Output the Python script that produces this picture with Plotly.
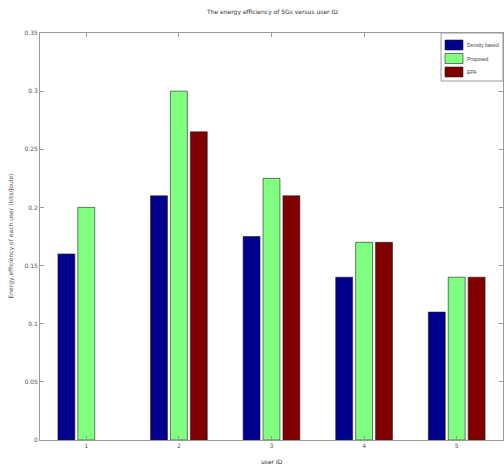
import plotly.graph_objects as go

# User IDs on the x axis
users = [1, 2, 3, 4, 5]
user_labels = ["1", "2", "3", "4", "5"]

# Energy efficiency of each user for the three schemes (None = no bar)
density_based = [0.16, 0.21, 0.175, 0.14, 0.11]
proposed = [0.20, 0.30, 0.225, 0.17, 0.14]
epa = [None, 0.265, 0.21, 0.17, 0.14]

y_ticks = [0, 0.05, 0.1, 0.15, 0.2, 0.25, 0.3, 0.35]

series = [
    ("Density based", density_based, "#00008f"),
    ("Proposed", proposed, "#80ff80"),
    ("EPA", epa, "#800000"),
]

fig = go.Figure()
for name, vals, color in series:
    fig.add_trace(go.Bar(
        x=users, y=vals, name=name, showlegend=False,
        marker=dict(color=color, line=dict(color="#222222", width=0.6)),
    ))

axis_common = dict(
    showline=True, linecolor="#9a9a9a", linewidth=1, mirror="ticks",
    ticks="inside", ticklen=4, tickcolor="#9a9a9a", tickwidth=1,
    showgrid=False, zeroline=False,
    tickfont=dict(family="DejaVu Sans", size=6, color="#555555"),
)

# Plot area geometry in pixels, used to place the compact legend box
W, H = 504, 466
ML, MR, MT, MB = 40, 1, 33, 26
pw, ph = W - ML - MR, H - MT - MB


def px_x(px):
    return (px - ML) / pw


def px_y(py):
    return (H - MB - py) / ph


shapes = [dict(type="rect", xref="paper", yref="paper",
               x0=px_x(441), x1=px_x(503), y0=px_y(81), y1=px_y(33),
               fillcolor="white", line=dict(color="#9a9a9a", width=1), layer="above")]
annotations = []
for i, (name, _, color) in enumerate(series):
    cy = 45 + i * 13.5
    shapes.append(dict(type="rect", xref="paper", yref="paper",
                       x0=px_x(445), x1=px_x(463), y0=px_y(cy + 5), y1=px_y(cy - 5),
                       fillcolor=color, line=dict(color="#222222", width=0.6), layer="above"))
    annotations.append(dict(text=name, x=px_x(464.5), y=px_y(cy), xref="paper", yref="paper",
                            xanchor="left", yanchor="middle", showarrow=False,
                            font=dict(family="Liberation Sans", size=5, color="#444444")))

annotations += [
    dict(text="The energy efficiency of 5Gs versus user ID", x=0.5, y=1, xref="paper", yref="paper",
         xanchor="center", yanchor="bottom", yshift=15, showarrow=False,
         font=dict(family="DejaVu Sans", size=6, color="#333333")),
    dict(text="user ID", x=0.5, y=0, xref="paper", yref="paper",
         xanchor="center", yanchor="top", yshift=-16, showarrow=False,
         font=dict(family="DejaVu Sans", size=6, color="#333333")),
    dict(text="Energy efficiency of each user (bits/Joule)", x=0, y=0.5, xref="paper", yref="paper",
         xanchor="center", yanchor="middle", xshift=-30, textangle=-90, showarrow=False,
         font=dict(family="DejaVu Sans", size=6, color="#555555")),
]

fig.update_layout(
    width=W, height=H,
    margin=dict(l=ML, r=MR, t=MT, b=MB),
    paper_bgcolor="white", plot_bgcolor="white",
    barmode="group", bargap=0.355, bargroupgap=0.15,
    xaxis=dict(range=[0.5, 5.5], tickvals=users, ticktext=user_labels, **axis_common),
    yaxis=dict(range=[0, 0.35], tickvals=y_ticks, **axis_common),
    showlegend=False,
    shapes=shapes,
    annotations=annotations,
)

fig.write_html("out.html")
